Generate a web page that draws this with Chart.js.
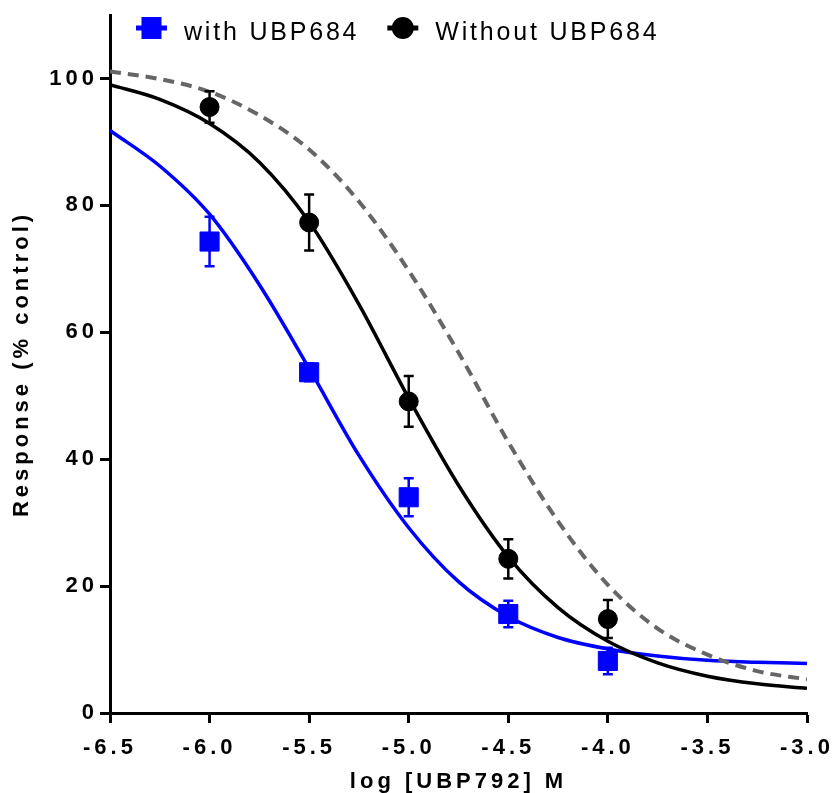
<!DOCTYPE html>
<html>
<head>
<meta charset="utf-8">
<script src="https://cdn.jsdelivr.net/npm/chart.js@4.4.1/dist/chart.umd.min.js"></script>
<style>
  html, body { margin: 0; padding: 0; background: #fff; }
  #wrap { width: 832px; height: 793px; position: relative; }
</style>
</head>
<body>
<div id="wrap"><canvas id="chart"></canvas></div>
<script>
// measured points (log M) with SEM
const doses = [-6.0, -5.5, -5.0, -4.5, -4.0];
const withUBP684 = [74.3, 53.7, 34.0, 15.6, 8.2];
const withUBP684Err = [3.9, 1.4, 3.0, 2.1, 2.1];
const withoutUBP684 = [95.5, 77.3, 49.1, 24.3, 14.8];
const withoutUBP684Err = [2.5, 4.4, 4.0, 3.1, 3.0];

// fitted curves
const curveX = [-6.5, -6.25, -6.0, -5.75, -5.5, -5.25, -5.0, -4.75, -4.5, -4.25, -4.0, -3.75, -3.5, -3.25, -3.0];
const curveWith = [91.8, 86.2, 78.6, 67.5, 54.3, 40.6, 29.2, 20.7, 15.2, 11.9, 10.1, 9.0, 8.3, 8.0, 7.8];
const curveWithout = [99.0, 96.7, 92.9, 86.8, 77.4, 64.4, 49.6, 35.9, 24.6, 16.6, 11.3, 7.9, 5.8, 4.6, 3.9];
const curveReference = [101.1, 99.9, 97.9, 94.2, 88.8, 80.6, 69.7, 56.8, 42.7, 30.2, 20.2, 13.3, 9.2, 6.6, 5.3];

// axis ticks
const xTicks = [-6.5, -6.0, -5.5, -5.0, -4.5, -4.0, -3.5, -3.0];
const yTicks = [0, 20, 40, 60, 80, 100];

const BLUE = '#0000ff';
const GREY = '#666666';
const FONT = '"Liberation Sans", Arial, sans-serif';
const axisFont = { family: FONT, size: 22, weight: 'bold' };

const toPoints = (xs, ys) => xs.map((x, i) => ({ x: x, y: ys[i] }));

// GraphPad-like wide lettering on every axis text
const spacing = {
  id: 'spacing',
  beforeUpdate(chart) { chart.ctx.letterSpacing = '4px'; },
  beforeDraw(chart) { chart.ctx.letterSpacing = '4px'; }
};

// error bars drawn just under each marker dataset
const errorBars = {
  id: 'errorBars',
  beforeDatasetDraw(chart, args) {
    const ds = chart.data.datasets[args.index];
    if (!ds.errors) return;
    const { ctx, scales: { x, y } } = chart;
    ctx.save();
    ctx.strokeStyle = ds.borderColor;
    ctx.lineWidth = 2.5;
    ds.data.forEach((p, i) => {
      const px = x.getPixelForValue(p.x);
      const top = y.getPixelForValue(p.y + ds.errors[i]);
      const bot = y.getPixelForValue(p.y - ds.errors[i]);
      ctx.beginPath();
      ctx.moveTo(px, top); ctx.lineTo(px, bot);
      ctx.moveTo(px - 5, top); ctx.lineTo(px + 5, top);
      ctx.moveTo(px - 5, bot); ctx.lineTo(px + 5, bot);
      ctx.stroke();
    });
    ctx.restore();
  }
};

// legend row at the top: line + marker, then label
const legendRow = {
  id: 'legendRow',
  afterDraw(chart) {
    const ctx = chart.ctx;
    ctx.save();
    ctx.font = '25px ' + FONT;
    ctx.letterSpacing = '2.8px';
    ctx.textBaseline = 'alphabetic';
    const cy = 28;
    let x = 136;
    chart.data.datasets.filter(d => d.legend).forEach(d => {
      ctx.strokeStyle = d.borderColor;
      ctx.fillStyle = d.backgroundColor;
      ctx.lineWidth = 5;
      ctx.beginPath(); ctx.moveTo(x, cy); ctx.lineTo(x + 31, cy); ctx.stroke();
      if (d.pointStyle === 'rect') {
        ctx.fillRect(x + 5.5, cy - 11, 20, 22);
      } else {
        ctx.beginPath(); ctx.arc(x + 15.5, cy, 11, 0, Math.PI * 2); ctx.fill();
      }
      ctx.fillStyle = '#000';
      ctx.fillText(d.label, x + 48, 40);
      x += 48 + ctx.measureText(d.label).width + 28;
    });
    ctx.restore();
  }
};

const curve = (data, color, width, dash) => ({
  type: 'scatter',
  data: data,
  showLine: true,
  borderColor: color,
  borderWidth: width,
  borderDash: dash || [],
  cubicInterpolationMode: 'monotone',
  pointRadius: 0,
  order: 3
});

new Chart(document.getElementById('chart'), {
  type: 'scatter',
  data: {
    datasets: [
      {
        label: 'with UBP684',
        legend: true,
        data: toPoints(doses, withUBP684),
        errors: withUBP684Err,
        pointStyle: 'rect',
        pointRadius: 13.5,
        backgroundColor: BLUE,
        borderColor: BLUE,
        borderWidth: 1,
        order: 1
      },
      {
        label: 'Without UBP684',
        legend: true,
        data: toPoints(doses, withoutUBP684),
        errors: withoutUBP684Err,
        pointStyle: 'circle',
        pointRadius: 9.5,
        backgroundColor: '#000',
        borderColor: '#000',
        borderWidth: 1,
        order: 1
      },
      curve(toPoints(curveX, curveReference), GREY, 4, [11, 7]),
      curve(toPoints(curveX, curveWithout), '#000', 3.5),
      curve(toPoints(curveX, curveWith), BLUE, 3.5)
    ]
  },
  options: {
    responsive: true,
    maintainAspectRatio: false,
    animation: false,
    layout: { padding: { top: 15, right: 25, left: 0, bottom: 0 } },
    plugins: {
      legend: { display: false },
      tooltip: { enabled: false }
    },
    scales: {
      x: {
        type: 'linear',
        min: -6.5,
        max: -3.0,
        afterBuildTicks: s => { s.ticks = xTicks.map(v => ({ value: v })); },
        afterFit: s => { s.height = 80; s.paddingLeft = 0; s.paddingRight = 0; },
        ticks: {
          callback: v => v.toFixed(1),
          font: axisFont,
          color: '#000',
          padding: 12,
          maxRotation: 0,
          autoSkip: false
        },
        grid: { drawOnChartArea: false, drawTicks: true, tickLength: 10, tickWidth: 3, tickColor: '#000' },
        border: { color: '#000', width: 3 },
        title: { display: true, text: 'log [UBP792] M', font: axisFont, color: '#000', padding: { top: 0, bottom: -2 } }
      },
      y: {
        type: 'linear',
        min: 0,
        max: 110,
        afterBuildTicks: s => { s.ticks = yTicks.map(v => ({ value: v })); },
        afterFit: s => { s.width = 110; s.paddingTop = 0; s.paddingBottom = 0; },
        ticks: {
          font: axisFont,
          color: '#000',
          padding: 2
        },
        grid: { drawOnChartArea: false, drawTicks: true, tickLength: 10, tickWidth: 3, tickColor: '#000' },
        border: { color: '#000', width: 3 },
        title: { display: true, text: 'Response (% control)', font: axisFont, color: '#000', padding: { top: 9, bottom: 0 } }
      }
    }
  },
  plugins: [spacing, errorBars, legendRow]
});
</script>
</body>
</html>
